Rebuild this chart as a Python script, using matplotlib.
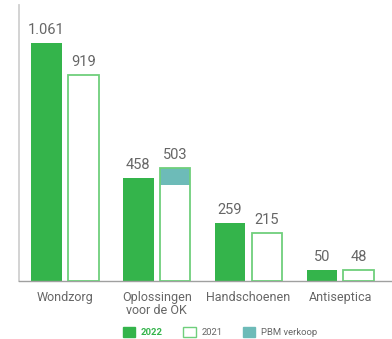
import matplotlib.pyplot as plt
from matplotlib.patches import Patch

plt.rcParams['font.family'] = ['Roboto', 'DejaVu Sans']

# Sales per product group (x 1000)
categories = ['Wondzorg', 'Oplossingen\nvoor de OK', 'Handschoenen', 'Antiseptica']
sales_2022 = [1061, 458, 259, 50]
sales_2021 = [919, 503, 215, 48]
pbm_2021 = [0, 75, 0, 0]

green = '#34b44b'
light_green = '#6fcf7c'
teal = '#6dbbb8'
text_grey = '#666666'

fig = plt.figure(figsize=(3.92, 3.39), dpi=100)
ax = fig.add_axes([19 / 392, 58 / 339, 373 / 392, 276 / 339])

x = [i * 0.997 for i in range(len(categories))]
w = 0.33
off = 0.2

for i, xi in enumerate(x):
    ax.bar(xi - off, sales_2022[i], width=w, color=green, zorder=2)
    if pbm_2021[i]:
        ax.bar(xi + off, pbm_2021[i], bottom=sales_2021[i] - pbm_2021[i],
               width=w, color=teal, zorder=2)
    ax.bar(xi + off, sales_2021[i], width=w, facecolor='none',
           edgecolor=light_green, linewidth=1.3, zorder=3)

    lbl22 = f'{sales_2022[i]:,}'.replace(',', '.')
    lbl21 = f'{sales_2021[i]:,}'.replace(',', '.')
    ax.text(xi - off, sales_2022[i] + 26, lbl22, ha='center', va='bottom',
            fontsize=10.5, color=text_grey)
    ax.text(xi + off, sales_2021[i] + 26, lbl21, ha='center', va='bottom',
            fontsize=10.5, color=text_grey)

ax.set_xlim(-0.5, -0.5 + 373 / 92)
ax.set_ylim(0, 1230)
ax.set_xticks(x)
ax.set_xticklabels(categories, fontsize=9, color=text_grey, linespacing=1.05)
ax.tick_params(axis='x', length=0, pad=7)
ax.set_yticks([])

for s in ['top', 'right']:
    ax.spines[s].set_visible(False)
ax.spines['left'].set_color('#d0d0d0')
ax.spines['left'].set_linewidth(1.3)
ax.spines['bottom'].set_color('#a0a0a0')
ax.spines['bottom'].set_linewidth(1.0)

handles = [
    Patch(facecolor=green, edgecolor=green, label='2022'),
    Patch(facecolor='white', edgecolor=light_green, linewidth=1.0, label='2021'),
    Patch(facecolor=teal, edgecolor=teal, label='PBM verkoop'),
]
leg = fig.legend(handles=handles, loc='center', bbox_to_anchor=(220 / 392, 1 - 332 / 339),
                 ncol=3, frameon=False, fontsize=6.8, handlelength=1.3,
                 handleheight=1.3, columnspacing=2.2, handletextpad=0.6)
for t in leg.get_texts():
    t.set_color(text_grey)
leg.get_texts()[0].set_color(green)
leg.get_texts()[0].set_fontweight('bold')

fig.savefig('out.png', dpi=100)
